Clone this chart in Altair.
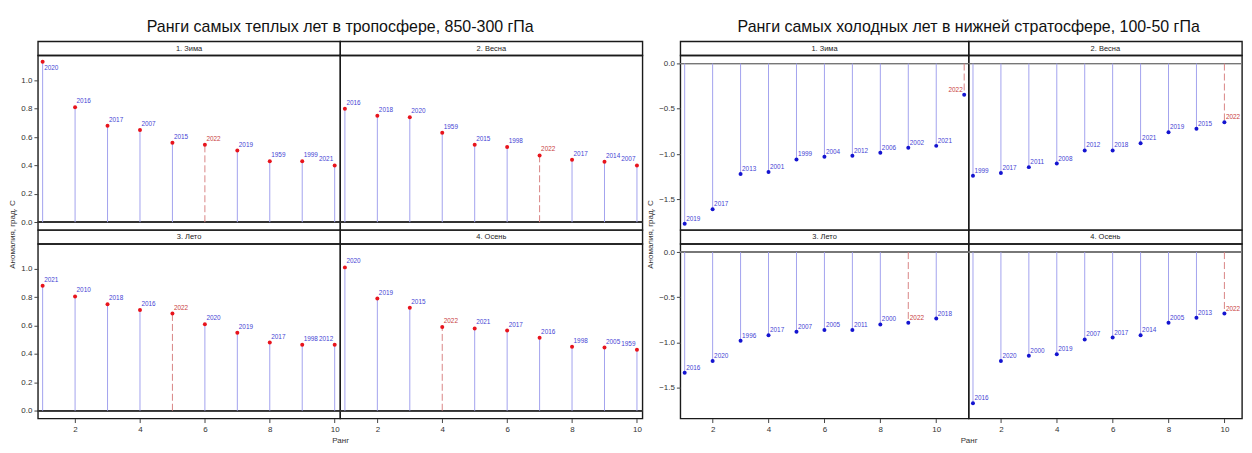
import altair as alt
import pandas as pd

FONT = "Liberation Sans, Arial, sans-serif"

# ---------------- data: warmest years, troposphere 850-300 hPa ----------------
season_titles = ["1. Зима", "2. Весна", "3. Лето", "4. Осень"]
warm_winter_years = [2020, 2016, 2017, 2007, 2015, 2022, 2019, 1959, 1999, 2021]
warm_winter_vals = [1.13, 0.81, 0.68, 0.65, 0.56, 0.545, 0.505, 0.43, 0.43, 0.40]
warm_spring_years = [2016, 2018, 2020, 1959, 2015, 1998, 2022, 2017, 2014, 2007]
warm_spring_vals = [0.80, 0.75, 0.74, 0.63, 0.545, 0.53, 0.47, 0.44, 0.425, 0.40]
warm_summer_years = [2021, 2010, 2018, 2016, 2022, 2020, 2019, 2017, 1998, 2012]
warm_summer_vals = [0.88, 0.805, 0.75, 0.71, 0.685, 0.61, 0.55, 0.48, 0.465, 0.465]
warm_autumn_years = [2020, 2019, 2015, 2022, 2021, 2017, 2016, 1998, 2005, 1959]
warm_autumn_vals = [1.01, 0.79, 0.725, 0.59, 0.58, 0.565, 0.515, 0.45, 0.445, 0.43]

# ---------------- data: coldest years, lower stratosphere 100-50 hPa ----------------
cold_winter_ranks = [1, 2, 3, 4, 5, 6, 7, 8, 9, 10, 11]
cold_winter_years = [2019, 2017, 2013, 2001, 1999, 2004, 2012, 2006, 2002, 2021, 2022]
cold_winter_vals = [-1.77, -1.61, -1.22, -1.20, -1.06, -1.03, -1.02, -0.985, -0.93, -0.91, -0.345]
cold_spring_years = [1999, 2017, 2011, 2008, 2012, 2018, 2021, 2019, 2015, 2022]
cold_spring_vals = [-1.24, -1.21, -1.145, -1.105, -0.96, -0.96, -0.88, -0.76, -0.72, -0.65]
cold_summer_years = [2016, 2020, 1996, 2017, 2007, 2005, 2011, 2000, 2022, 2018]
cold_summer_vals = [-1.335, -1.205, -0.98, -0.92, -0.88, -0.862, -0.862, -0.80, -0.78, -0.735]
cold_autumn_years = [2016, 2020, 2000, 2019, 2007, 2017, 2014, 2005, 2013, 2022]
cold_autumn_vals = [-1.67, -1.205, -1.145, -1.13, -0.965, -0.945, -0.92, -0.78, -0.725, -0.68]

warm_ticks = [0.0, 0.2, 0.4, 0.6, 0.8, 1.0]
cold_ticks = [0.0, -0.5, -1.0, -1.5]
x_ticks = [2, 4, 6, 8, 10]

LEFT_TITLE = "Ранги самых теплых лет в тропосфере, 850-300 гПа"
RIGHT_TITLE = "Ранги самых холодных лет в нижней стратосфере, 100-50 гПа"
Y_TITLE = "Аномалия, град. С"
X_TITLE = "Ранг"

STEM = "#a3a3ee"
STEM_CUR = "#d98585"
LAB = "#4444d4"
LAB_CUR = "#c83c3c"
FRAME = alt.ViewBackground(stroke="#1a1a1a", strokeWidth=1.4)
HIDDEN = alt.ViewBackground(strokeOpacity=0)

TITLE_H = 30
STRIP_H = 14
PLOT_H = 175
GAP_W = 38
LAB_SIZE = 6.4


def make_df(years, vals, ranks=None):
    if ranks is None:
        ranks = list(range(1, len(years) + 1))
    df = pd.DataFrame({"rank": ranks, "year": [str(y) for y in years], "value": vals})
    df["cur"] = df["year"] == "2022"
    df["zero"] = 0.0
    return df


def blank(w, h):
    return alt.Chart(pd.DataFrame({"a": [0]})).mark_point(opacity=0).encode(
        x=alt.value(0), y=alt.value(0)
    ).properties(width=w, height=h, view=HIDDEN)


def title_cell(text, w):
    return alt.Chart(pd.DataFrame({"t": [text]})).mark_text(
        font=FONT, fontSize=16, color="#111", align="center", baseline="middle"
    ).encode(text="t:N", x=alt.value(w), y=alt.value(16)).properties(
        width=w, height=TITLE_H, view=HIDDEN
    )


def strip(label, w):
    return alt.Chart(pd.DataFrame({"t": [label]})).mark_text(
        font=FONT, fontSize=7.5, color="#222"
    ).encode(
        text="t:N", x=alt.value(w / 2), y=alt.value(STRIP_H / 2 + 0.5)
    ).properties(width=w, height=STRIP_H, view=FRAME)


def yaxis_for(ticks, with_title):
    kw = dict(values=ticks, format=".1f", domain=False, grid=False, tickSize=4,
              tickColor="#444", labelColor="#333", labelFont=FONT, labelFontSize=8,
              labelPadding=2)
    if with_title:
        kw.update(title=Y_TITLE, titleFont=FONT, titleFontSize=8, titleFontWeight="normal",
                  titleColor="#333", titleY=PLOT_H + 4, titlePadding=4)
    else:
        kw.update(title=None)
    return alt.Axis(**kw)


def xaxis_for(w, show, with_title):
    if not show:
        return None
    kw = dict(values=x_ticks, format="d", domain=False, grid=False, tickSize=4,
              tickColor="#444", labelColor="#333", labelFont=FONT, labelFontSize=8,
              labelPadding=3)
    if with_title:
        kw.update(title=X_TITLE, titleFont=FONT, titleFontSize=8, titleFontWeight="normal",
                  titleColor="#333", titleX=w, titlePadding=3)
    else:
        kw.update(title=None)
    return alt.Axis(**kw)


def plot(df, xdom, ydom, w, dot, yaxis, xaxis, zero_color, ldy, flip_rank):
    xs = alt.Scale(domain=xdom, nice=False, zero=False)
    ys = alt.Scale(domain=ydom, nice=False, zero=False)
    X = alt.X("rank:Q", scale=xs, axis=xaxis)
    Yv = alt.Y("value:Q", scale=ys, axis=yaxis)
    top_thr = ydom[1] - 0.08 * (ydom[1] - ydom[0])
    base = alt.Chart(df)
    zero = base.mark_rule(color=zero_color, strokeWidth=1).encode(
        y=alt.Y("zero:Q", scale=ys, axis=yaxis)
    )
    stems = base.transform_filter("!datum.cur").mark_rule(color=STEM, strokeWidth=1).encode(
        x=X, y=alt.Y("zero:Q", scale=ys, axis=yaxis), y2="value:Q"
    )
    stems_cur = base.transform_filter("datum.cur").mark_rule(
        color=STEM_CUR, strokeWidth=1, strokeDash=[7, 3]
    ).encode(x=X, y=alt.Y("zero:Q", scale=ys, axis=yaxis), y2="value:Q")
    pts = base.mark_circle(size=16, color=dot, opacity=1).encode(x=X, y=Yv)
    color = alt.condition("datum.cur", alt.value(LAB_CUR), alt.value(LAB))
    lab_r = base.transform_filter(
        f"datum.rank < {flip_rank} && datum.value <= {top_thr}"
    ).mark_text(
        font=FONT, fontSize=LAB_SIZE, align="left", dx=1.5, dy=ldy
    ).encode(x=X, y=Yv, text="year:N", color=color)
    lab_l = base.transform_filter(
        f"datum.rank >= {flip_rank} && datum.value <= {top_thr}"
    ).mark_text(
        font=FONT, fontSize=LAB_SIZE, align="right", dx=-1.5, dy=ldy
    ).encode(x=X, y=Yv, text="year:N", color=color)
    lab_top = base.transform_filter(f"datum.value > {top_thr}").mark_text(
        font=FONT, fontSize=LAB_SIZE, align="left", dx=1.5, dy=6
    ).encode(x=X, y=Yv, text="year:N", color=color)
    return alt.layer(zero, stems, stems_cur, pts, lab_r, lab_l, lab_top).properties(
        width=w, height=PLOT_H, view=FRAME
    )


warm_dfs = [
    make_df(warm_winter_years, warm_winter_vals),
    make_df(warm_spring_years, warm_spring_vals),
    make_df(warm_summer_years, warm_summer_vals),
    make_df(warm_autumn_years, warm_autumn_vals),
]
cold_dfs = [
    make_df(cold_winter_years, cold_winter_vals, cold_winter_ranks),
    make_df(cold_spring_years, cold_spring_vals),
    make_df(cold_summer_years, cold_summer_vals),
    make_df(cold_autumn_years, cold_autumn_vals),
]

warm_cfg = dict(ydom=[-0.055, 1.175], ticks=warm_ticks, dot="#e8141c", zero="#333",
                ldy=-6, flip=10, xdoms=[[0.855, 10.17], [0.855, 10.17]], widths=[303, 303])
cold_cfg = dict(ydom=[-1.84, 0.09], ticks=cold_ticks, dot="#1414d0", zero="#777",
                ldy=-5, flip=11, xdoms=[[0.846, 11.16], [0.846, 10.63]], widths=[289, 274])


def panel(dfs, cfg, idx):
    row, col = divmod(idx, 2)
    w = cfg["widths"][col]
    ya = yaxis_for(cfg["ticks"], row == 0) if col == 0 else None
    xa = xaxis_for(w, row == 1, row == 1 and col == 0)
    return plot(dfs[idx], cfg["xdoms"][col], cfg["ydom"], w, cfg["dot"], ya, xa,
                cfg["zero"], cfg["ldy"], cfg["flip"])


lw, rw = warm_cfg["widths"], cold_cfg["widths"]
cells = [
    title_cell(LEFT_TITLE, lw[0]), blank(lw[1], TITLE_H), blank(GAP_W, TITLE_H),
    title_cell(RIGHT_TITLE, rw[0]), blank(rw[1], TITLE_H),
]
for r in range(2):
    cells += [strip(season_titles[2 * r], lw[0]), strip(season_titles[2 * r + 1], lw[1]),
              blank(GAP_W, STRIP_H),
              strip(season_titles[2 * r], rw[0]), strip(season_titles[2 * r + 1], rw[1])]
    cells += [panel(warm_dfs, warm_cfg, 2 * r), panel(warm_dfs, warm_cfg, 2 * r + 1),
              blank(GAP_W, PLOT_H),
              panel(cold_dfs, cold_cfg, 2 * r), panel(cold_dfs, cold_cfg, 2 * r + 1)]

chart = alt.concat(
    *cells, columns=5, spacing=0, bounds="flush", align="each"
).properties(
    padding={"left": 0, "top": 0, "right": 0, "bottom": 0}
).configure(background="white")

chart.save("out.html", embed_options={"renderer": "svg", "actions": False})
